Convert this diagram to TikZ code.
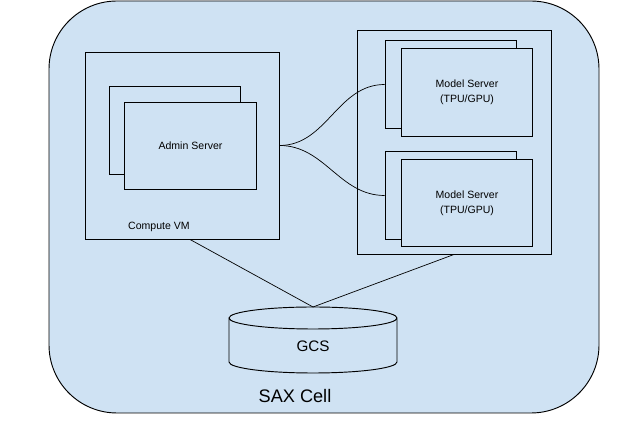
\documentclass[tikz,border=0pt]{standalone}
\usepackage{fontspec}
\setmainfont{Liberation Sans}
\definecolor{cellblue}{RGB}{207,226,243}
\begin{document}
\begin{tikzpicture}[x=0.03cm, y=0.03cm, every node/.style={font=\fontsize{9}{12.5}\selectfont},
  mybox/.style={draw,fill=cellblue,line width=0.8pt,inner sep=0pt},
  vmbox/.style={mybox,minimum width=5.82cm,minimum height=5.61cm},
  srvbox/.style={mybox,minimum width=3.95cm,minimum height=2.62cm,align=center},
  link/.style={line width=0.6pt}]
\useasboundingbox (0,0) rectangle (642,429);
\draw[fill=cellblue,line width=0.8pt,rounded corners=2.04cm] (49,16) rectangle (599,428);
% compute VM side
\node[vmbox] (vm) at (182,283.5) {};
\node[srvbox] (adback) at (175,298.5) {};
\node[srvbox] (admin) at (190.5,283) {Admin Server};
\node at (159,202) {Compute VM};
% model servers
\node[mybox,minimum width=5.82cm,minimum height=6.72cm] (pool) at (454,287) {};
\node[srvbox] (msback1) at (451,344.5) {};
\node[srvbox] (ms1) at (467,336.5) {Model Server\\(TPU/GPU)};
\node[srvbox] (msback2) at (451,233.5) {};
\node[srvbox] (ms2) at (467,226) {Model Server\\(TPU/GPU)};
\draw[link] (vm.east) to[out=0,in=180] (msback1.west);
\draw[link] (vm.east) to[out=0,in=180] (msback2.west);
% storage
\draw[fill=cellblue,line width=0.8pt] (229,111) -- (229,67)
  arc[start angle=180,end angle=360,x radius=84,y radius=11] -- (397,111)
  arc[start angle=0,end angle=360,x radius=84,y radius=11];
\coordinate (gcstop) at (313,122);
\node[font=\fontsize{13}{15}\selectfont] (gcs) at (313,83) {GCS};
\draw[link] ([xshift=0.24cm]vm.south) -- (gcstop);
\draw[link] (pool.south) -- (gcstop);
\node[font=\fontsize{15.5}{18}\selectfont] (cell) at (295,33) {SAX Cell};
\end{tikzpicture}
\end{document}
